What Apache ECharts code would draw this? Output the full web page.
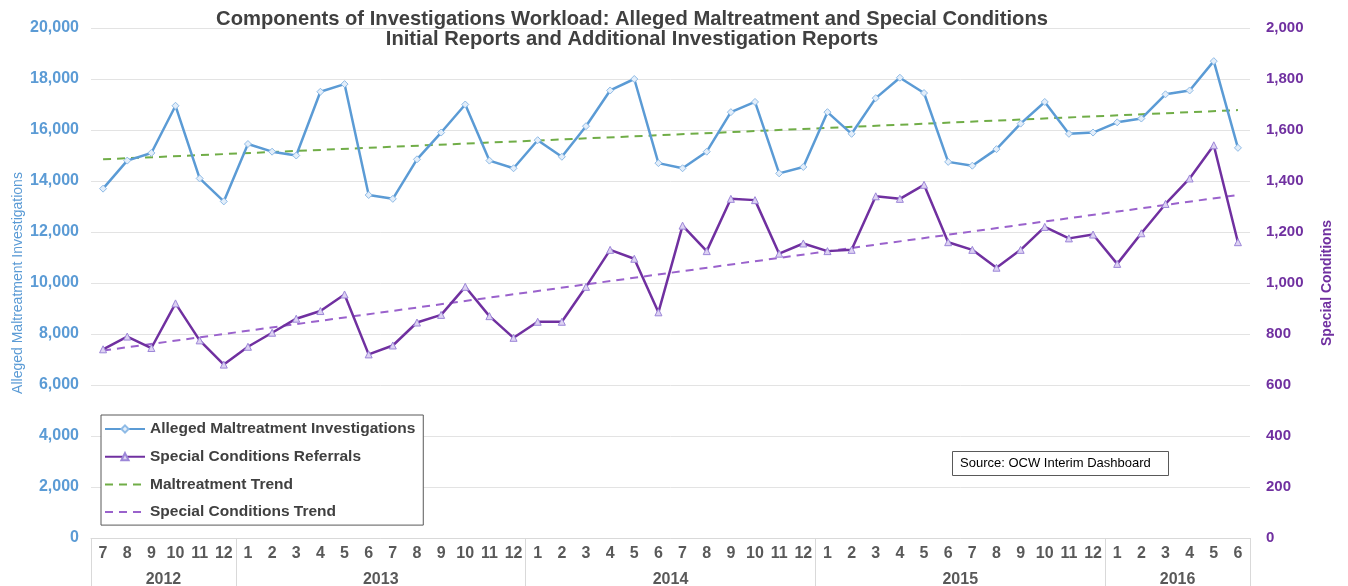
<!DOCTYPE html>
<html>
<head>
<meta charset="utf-8">
<script src="https://cdn.jsdelivr.net/npm/echarts@6/dist/echarts.min.js"></script>
<style>
  html, body { margin: 0; padding: 0; background: #fff; }
  #chart { width: 1348px; height: 586px; }
</style>
</head>
<body>
<div id="chart"></div>
<script>
// month labels, 2012-7 .. 2016-6
var months = [7, 8, 9, 10, 11, 12,
  1, 2, 3, 4, 5, 6, 7, 8, 9, 10, 11, 12,
  1, 2, 3, 4, 5, 6, 7, 8, 9, 10, 11, 12,
  1, 2, 3, 4, 5, 6, 7, 8, 9, 10, 11, 12,
  1, 2, 3, 4, 5, 6];
var years = ['2012', '2013', '2014', '2015', '2016'];
var monthsInYear = [6, 12, 12, 12, 6];

var maltreatment = [13700, 14800, 15100, 16950, 14100, 13200,
  15450, 15150, 15000, 17500, 17800, 13450, 13300, 14850, 15900, 17000, 14800, 14500,
  15600, 14950, 16150, 17550, 18000, 14700, 14500, 15150, 16700, 17100, 14300, 14550,
  16700, 15850, 17250, 18050, 17450, 14750, 14600, 15250, 16250, 17100, 15850, 15900,
  16300, 16450, 17400, 17550, 18700, 15300];

var specialCond = [740, 790, 745, 920, 775, 680,
  750, 805, 860, 890, 955, 720, 755, 845, 875, 985, 870, 785,
  848, 848, 985, 1130, 1095, 885, 1225, 1125, 1330, 1325, 1115, 1155,
  1125, 1130, 1340, 1330, 1385, 1160, 1130, 1060, 1130, 1220, 1175, 1190,
  1075, 1195, 1310, 1410, 1540, 1160];

// trend line end points (first month, last month)
var maltTrendEnds = [14850, 16780];
var specTrendEnds = [735, 1345];

function trendSeries(ends) {
  var arr = months.map(function () { return null; });
  arr[0] = ends[0];
  arr[arr.length - 1] = ends[1];
  return arr;
}

// year label positions (center of each year block, in month units)
var yearCenters = [];
var acc = 0;
monthsInYear.forEach(function (n) { yearCenters.push(acc + n / 2); acc += n; });

var chart = echarts.init(document.getElementById('chart'));

var labelFont = 'Liberation Sans, Arial, sans-serif';

var option = {
  backgroundColor: '#fff',
  animation: false,
  title: [{
    text: 'Components of Investigations Workload: Alleged Maltreatment and Special Conditions\nInitial Reports and Additional Investigation Reports',
    left: 627,
    textAlign: 'center',
    top: 4,
    textStyle: {
      fontFamily: labelFont,
      fontSize: 20.2,
      fontWeight: 'bold',
      color: '#404040',
      lineHeight: 20
    }
  }, {
    text: 'Source: OCW Interim Dashboard',
    left: 952,
    top: 451,
    padding: [6, 18, 6, 8],
    borderWidth: 1,
    borderColor: '#595959',
    backgroundColor: '#fff',
    textStyle: {
      fontFamily: labelFont,
      fontSize: 13,
      fontWeight: 'normal',
      color: '#000'
    }
  }],
  legend: {
    orient: 'vertical',
    left: 101,
    top: 415,
    padding: [6, 8, 5, 3],
    itemWidth: 40,
    itemHeight: 9,
    itemGap: 11.7,
    borderWidth: 1,
    borderColor: '#595959',
    backgroundColor: '#fff',
    textStyle: {
      fontFamily: labelFont,
      fontSize: 15.5,
      fontWeight: 'bold',
      color: '#404040'
    },
    data: [
      { name: 'Alleged Maltreatment Investigations' },
      { name: 'Special Conditions Referrals' },
      { name: 'Maltreatment Trend', itemStyle: { opacity: 0 } },
      { name: 'Special Conditions Trend', itemStyle: { opacity: 0 } }
    ]
  },
  grid: {
    left: 91,
    right: 98,
    top: 28,
    bottom: 48,
    containLabel: false,
    outerBoundsMode: 'none'
  },
  xAxis: [{
    type: 'category',
    data: months,
    boundaryGap: true,
    axisLine: { show: true, lineStyle: { color: '#d9d9d9', width: 1 } },
    axisTick: {
      show: true,
      length: 48,
      lineStyle: { color: '#d9d9d9' },
      interval: function (index, value) { return index === 0 || String(value) === '1'; }
    },
    axisLabel: {
      interval: 0,
      margin: 8,
      fontFamily: labelFont,
      fontSize: 16,
      fontWeight: 'bold',
      color: '#595959'
    },
    splitLine: { show: false }
  }, {
    type: 'value',
    position: 'bottom',
    offset: 26,
    min: 0,
    max: months.length,
    interval: 3,
    axisLine: { show: false },
    axisTick: { show: false },
    splitLine: { show: false },
    axisLabel: {
      margin: 8,
      showMinLabel: true,
      showMaxLabel: true,
      fontFamily: labelFont,
      fontSize: 16,
      fontWeight: 'bold',
      color: '#595959',
      formatter: function (v) {
        var i = yearCenters.indexOf(v);
        return i >= 0 ? years[i] : '';
      }
    }
  }],
  yAxis: [{
    type: 'value',
    min: 0,
    max: 20000,
    interval: 2000,
    name: 'Alleged Maltreatment Investigations',
    nameLocation: 'middle',
    nameGap: 66,
    nameRotate: 90,
    nameMoveOverlap: false,
    nameTextStyle: {
      fontFamily: 'Liberation Sans Narrow, Arial Narrow, sans-serif',
      fontSize: 14,
      color: '#5b9bd5'
    },
    axisLine: { show: false },
    axisTick: { show: false },
    axisLabel: {
      margin: 12,
      fontFamily: labelFont,
      fontSize: 16,
      fontWeight: 'bold',
      color: '#5b9bd5',
      formatter: function (v) { return v.toLocaleString('en-US'); }
    },
    splitLine: { lineStyle: { color: '#e3e3e3', width: 1 } }
  }, {
    type: 'value',
    min: 0,
    max: 2000,
    interval: 200,
    name: 'Special Conditions',
    nameLocation: 'middle',
    nameGap: 70,
    nameRotate: 90,
    nameTextStyle: {
      fontFamily: 'Liberation Sans Narrow, Arial Narrow, sans-serif',
      fontSize: 14,
      fontWeight: 'bold',
      color: '#7030a0'
    },
    axisLine: { show: false },
    axisTick: { show: false },
    axisLabel: {
      margin: 16,
      fontFamily: labelFont,
      fontSize: 15,
      fontWeight: 'bold',
      color: '#7030a0',
      formatter: function (v) { return v.toLocaleString('en-US'); }
    },
    splitLine: { show: false }
  }],
  series: [{
    name: 'Alleged Maltreatment Investigations',
    type: 'line',
    xAxisIndex: 0,
    yAxisIndex: 0,
    data: maltreatment,
    symbol: 'diamond',
    symbolSize: 7,
    lineStyle: { color: '#5b9bd5', width: 2.5 },
    itemStyle: { color: '#e3eefa', borderColor: '#8fbbe6', borderWidth: 1 },
    z: 4
  }, {
    name: 'Special Conditions Referrals',
    type: 'line',
    xAxisIndex: 0,
    yAxisIndex: 1,
    data: specialCond,
    symbol: 'triangle',
    symbolSize: 7,
    lineStyle: { color: '#7030a0', width: 2.5 },
    itemStyle: { color: '#ddd2f2', borderColor: '#9c86d8', borderWidth: 1 },
    z: 4
  }, {
    name: 'Maltreatment Trend',
    type: 'line',
    xAxisIndex: 0,
    yAxisIndex: 0,
    data: trendSeries(maltTrendEnds),
    connectNulls: true,
    showSymbol: false,
    symbol: 'none',
    lineStyle: { color: '#70ad47', width: 2, type: [8, 6] },
    itemStyle: { color: '#70ad47' },
    z: 3
  }, {
    name: 'Special Conditions Trend',
    type: 'line',
    xAxisIndex: 0,
    yAxisIndex: 1,
    data: trendSeries(specTrendEnds),
    connectNulls: true,
    showSymbol: false,
    symbol: 'none',
    lineStyle: { color: '#9a62cc', width: 2, type: [8, 6] },
    itemStyle: { color: '#9a62cc' },
    z: 3
  }]
};

chart.setOption(option);
</script>
</body>
</html>
